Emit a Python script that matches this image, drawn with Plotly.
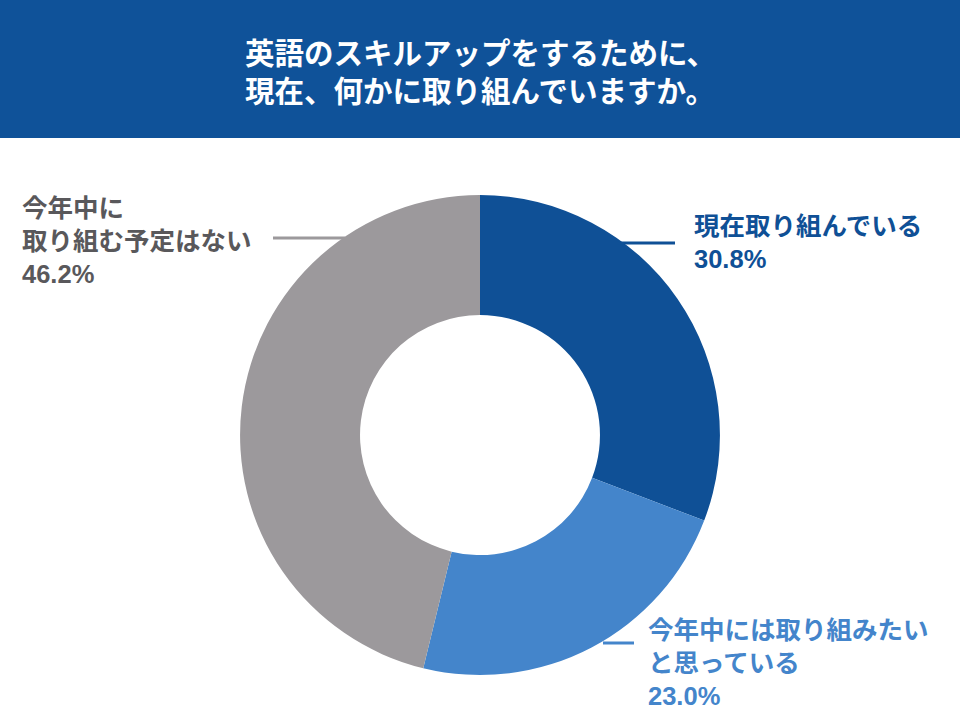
import plotly.graph_objects as go

labels = ['現在取り組んでいる', '今年中には取り組みたい<br>と思っている', '今年中に<br>取り組む予定はない']
values = [30.8, 23.0, 46.2]
colors = ['#0f5096', '#4485cb', '#9c999c']
text_colors = ['#0f5096', '#4485cb', '#59585b']
title_lines = ['英語のスキルアップをするために、', '現在、何かに取り組んでいますか。']

font_family = 'Liberation Sans, Noto Sans CJK JP'

fig = go.Figure(go.Pie(
    labels=labels,
    values=values,
    marker=dict(colors=colors, line=dict(width=0)),
    hole=0.5,
    sort=False,
    direction='clockwise',
    rotation=0,
    textinfo='none',
    hoverinfo='label+percent',
    domain=dict(x=[0.25, 0.75], y=[0.0625, 0.729]),
    showlegend=False,
))

# header band
fig.add_shape(type='rect', xref='paper', yref='paper', x0=0, x1=1, y0=1 - 138 / 720, y1=1,
              fillcolor='#0f5299', line_width=0, layer='below')
for i, line in enumerate(title_lines):
    fig.add_annotation(text='<b>' + line + '</b>', x=0.5, y=1 - (51 + 38 * i) / 720,
                       xref='paper', yref='paper', showarrow=False,
                       xanchor='center', yanchor='middle',
                       font=dict(family='Noto Sans CJK JP', size=29.5, color='white'))

# slice labels: (x, y) in pixels from top-left
label_pos = [(692, 242), (646, 663), (20, 241)]
for lab, val, col, (px, py) in zip(labels, values, text_colors, label_pos):
    fig.add_annotation(text='<b>%s<br>%.1f%%</b>' % (lab, val), x=px / 960, y=1 - py / 720,
                       xref='paper', yref='paper', showarrow=False, xanchor='left', yanchor='middle',
                       align='left', font=dict(family=font_family, size=25.5, color=col))

# leader lines
leaders = [(617, 675, 243, '#0f5096'), (603, 634, 643, '#4485cb'), (273, 345, 238, '#9c999c')]
for x0, x1, y, col in leaders:
    fig.add_shape(type='line', xref='paper', yref='paper', x0=x0 / 960, x1=x1 / 960,
                  y0=1 - y / 720, y1=1 - y / 720, line=dict(color=col, width=3))

fig.update_layout(
    width=960, height=720,
    margin=dict(l=0, r=0, t=0, b=0),
    paper_bgcolor='white',
    plot_bgcolor='white',
)

fig.write_html("out.html", config={'displayModeBar': False},
               post_script="document.body.style.margin='0';document.body.style.overflow='hidden';")
